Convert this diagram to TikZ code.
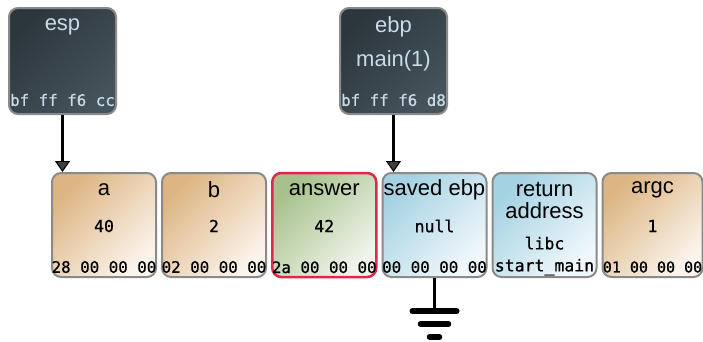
\documentclass[tikz,border=0pt]{standalone}
\usepackage{fontspec}
\setmainfont{Liberation Sans}
\setmonofont[FakeBold=0.8]{DejaVu Sans Mono}
\usetikzlibrary{positioning, arrows.meta}

\definecolor{cellline}{HTML}{8A8A8A}
\definecolor{tandark}{HTML}{DDB583}
\definecolor{tanlight}{HTML}{FBF4EC}
\definecolor{greendark}{HTML}{A6C18A}
\definecolor{greenlight}{HTML}{F0F5EC}
\definecolor{bluedark}{HTML}{A4D2E2}
\definecolor{bluelight}{HTML}{F1F8FB}
\definecolor{regdark}{HTML}{2C363D}
\definecolor{reglight}{HTML}{46535B}
\definecolor{regtext}{HTML}{C8DCEA}
\definecolor{redline}{HTML}{E0284F}

\begin{document}
\begin{tikzpicture}[x=1pt, y=-1pt,
      cell/.style = {rectangle, rounded corners=9pt, draw=cellline, line width=2pt,
                     minimum width=104pt, minimum height=104pt},
       tan/.style = {cell, top color=tandark, bottom color=tanlight, shading angle=45},
     green/.style = {cell, top color=greendark, bottom color=greenlight, shading angle=45,
                     draw=redline, line width=2.5pt},
      blue/.style = {cell, top color=bluedark, bottom color=bluelight, shading angle=45},
       reg/.style = {rectangle, rounded corners=9pt, draw=cellline, line width=2pt,
                     minimum width=107pt, minimum height=106pt,
                     top color=regdark, bottom color=reglight, shading angle=45},
     title/.style = {inner sep=0pt, align=center, font=\fontsize{22}{22}\selectfont},
       val/.style = {inner sep=0pt, align=center, font=\ttfamily\fontsize{16.5}{22}\selectfont},
       hex/.style = {inner sep=0pt, font=\ttfamily\fontsize{15.8}{18}\selectfont},
    regtxt/.style = {text=regtext},
       ptr/.style = {line width=2.5pt, -{Triangle[width=15pt, length=11pt, line width=1pt, fill=black!75]}}
                    ]
\useasboundingbox (0,0) rectangle (703,341);
% registers
\node (esp) [reg] at (62.5,61) {};
\node (esp title) [title, regtxt] at ([yshift=-20pt]esp.north) {esp};
\node (esp hex) [hex, regtxt] at ([yshift=15pt]esp.south) {bf ff f6 cc};
\node (ebp) [reg] at (393.5,61) {};
\node (ebp title) [title, regtxt] at ([yshift=-20pt]ebp.north) {ebp};
\node (ebp frame) [title, regtxt] at (ebp.center) {main(1)};
\node (ebp hex) [hex, regtxt] at ([yshift=15pt]ebp.south) {bf ff f6 d8};
% stack cells
\node (a) [tan] at (104,225) {};
\node (b) [tan, right=4pt of a] {};
\node (answer) [green, right=4pt of b] {};
\node (saved) [blue, right=4pt of answer] {};
\node (ret) [blue, right=4pt of saved] {};
\node (argc) [tan, right=4pt of ret, minimum width=100pt] {};
\node (a title) [title] at ([yshift=-18pt]a.north) {a};
\node (a val) [val] at ([yshift=-1pt]a.center) {40};
\node (a hex) [hex] at ([yshift=11pt]a.south) {28 00 00 00};
\node (b title) [title] at ([yshift=-18pt]b.north) {b};
\node (b val) [val] at ([yshift=-1pt]b.center) {2};
\node (b hex) [hex] at ([yshift=11pt]b.south) {02 00 00 00};
\node (answer title) [title] at ([yshift=-18pt]answer.north) {answer};
\node (answer val) [val] at ([yshift=-1pt]answer.center) {42};
\node (answer hex) [hex] at ([yshift=11pt]answer.south) {2a 00 00 00};
\node (saved title) [title] at ([yshift=-18pt]saved.north) {saved ebp};
\node (saved val) [val] at ([yshift=-1pt]saved.center) {null};
\node (saved hex) [hex] at ([yshift=11pt]saved.south) {00 00 00 00};
\node (ret title) [title] at ([yshift=-28pt]ret.north) {return\\address};
\node (ret val) [val] at ([yshift=22pt]ret.south) {libc\\start\_main};
\node (argc title) [title] at ([yshift=-18pt]argc.north) {argc};
\node (argc val) [val] at ([yshift=-1pt]argc.center) {1};
\node (argc hex) [hex, font=\ttfamily\fontsize{15}{18}\selectfont] at ([yshift=11pt]argc.south) {01 00 00 00};
% pointers
\draw[ptr] (esp.south) -- (esp.south |- a.north);
\draw[ptr] (ebp.south) -- (ebp.south |- saved.north);
% ground
\coordinate (gnd) at ([yshift=-33pt]saved.south);
\draw[line width=2.5pt] (saved.south) -- (gnd);
\draw[line width=6pt, line cap=round] ([xshift=-22pt]gnd) -- ([xshift=22pt]gnd);
\draw[line width=5.5pt, line cap=round] ([xshift=-14pt,yshift=-13pt]gnd) -- ([xshift=14pt,yshift=-13pt]gnd);
\draw[line width=5.5pt, line cap=round] ([xshift=-5pt,yshift=-26pt]gnd) -- ([xshift=5pt,yshift=-26pt]gnd);
\end{tikzpicture}
\end{document}
